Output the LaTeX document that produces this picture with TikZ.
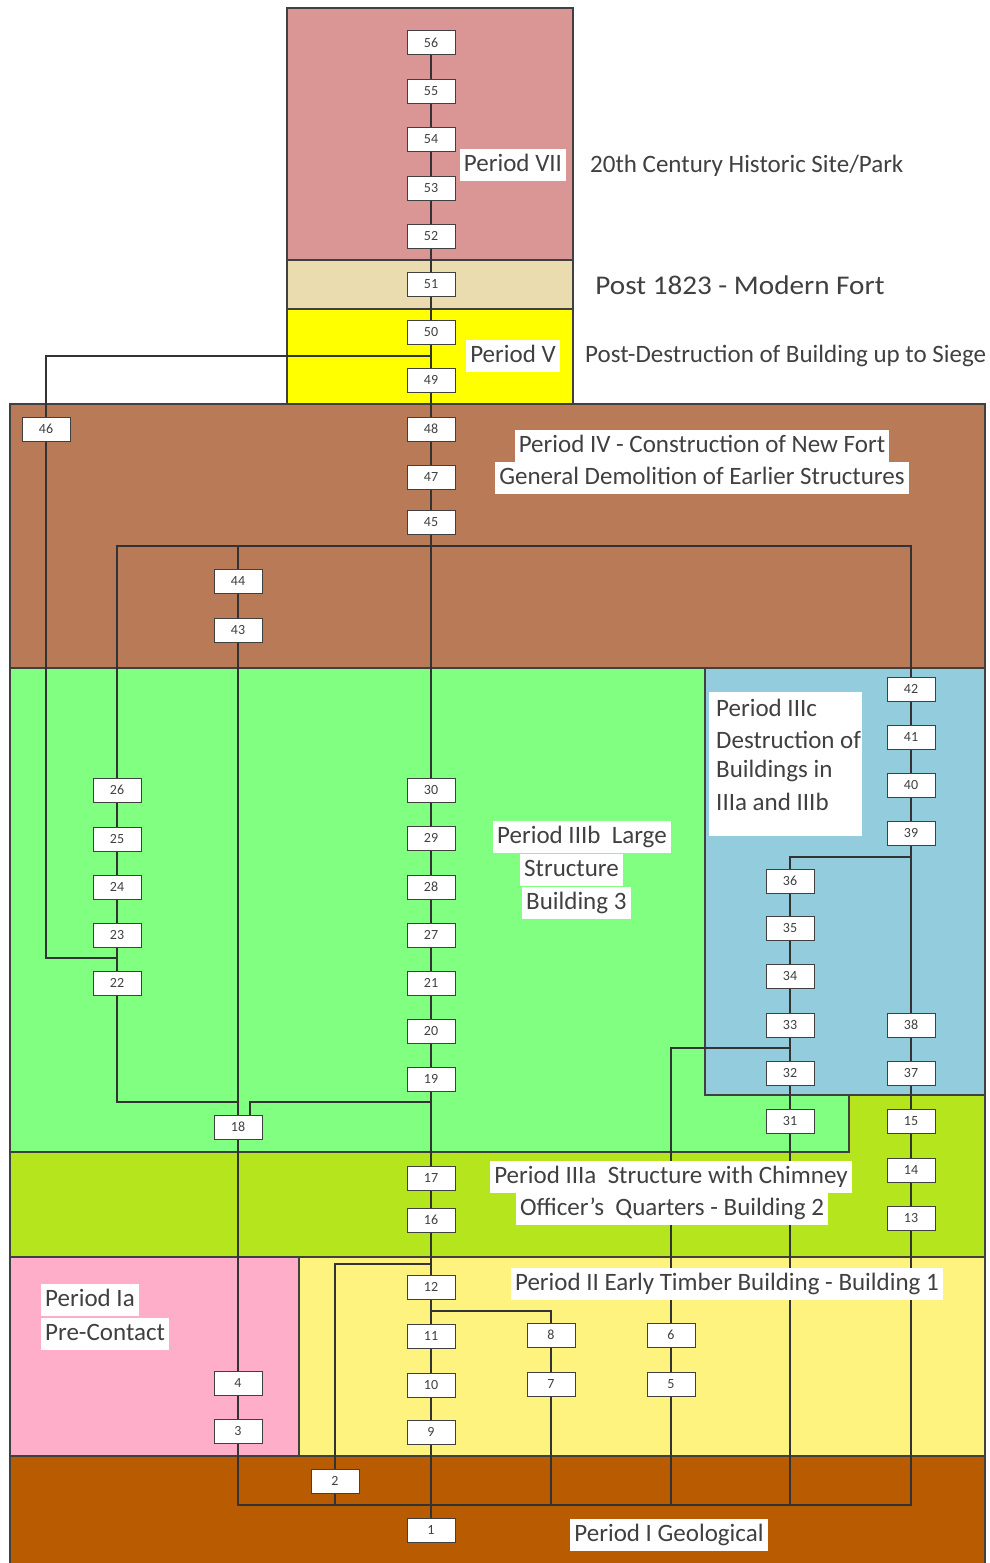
\documentclass[tikz,border=0pt]{standalone}
\usepackage{fontspec}
\setmainfont{Carlito}
\definecolor{cVII}{HTML}{D99694}
\definecolor{cPost}{HTML}{EADCAE}
\definecolor{cV}{HTML}{FFFF00}
\definecolor{cIV}{HTML}{B97A57}
\definecolor{cIIIb}{HTML}{80FF80}
\definecolor{cIIIc}{HTML}{93CDDD}
\definecolor{cIIIa}{HTML}{B5E61D}
\definecolor{cIa}{HTML}{FFAEC9}
\definecolor{cII}{HTML}{FFF37F}
\definecolor{cI}{HTML}{B95B00}
\definecolor{ink}{HTML}{404040}
\pgfdeclarelayer{regions}
\pgfdeclarelayer{lines}
\pgfsetlayers{regions,lines,main}
\begin{document}
\begin{tikzpicture}[x=1pt,y=-1pt,
  region/.style={draw=black!75,line width=1.2pt},
  num/.style={rectangle,draw=black!75,fill=white,line width=1pt,minimum width=48pt,minimum height=24pt,inner sep=0pt,font=\fontsize{14}{14}\selectfont,text=ink},
  lab/.style={fill=white,inner xsep=4pt,inner ysep=4pt,text height=18pt,text depth=6pt,font=\fontsize{25}{30}\selectfont,text=ink},
  plain/.style={inner xsep=0pt,inner ysep=0pt,font=\fontsize{25}{30}\selectfont,text=ink},
  conn/.style={draw=black!80,line width=1.4pt}]

\begin{pgfonlayer}{regions}
\fill[white] (0,0) rectangle (990,1563);
\useasboundingbox (0,0) rectangle (990,1563);
\filldraw[region,fill=cVII] (287,8) rectangle (573,260);
\filldraw[region,fill=cPost] (287,260) rectangle (573,309);
\filldraw[region,fill=cV] (287,309) rectangle (573,404);
\filldraw[region,fill=cIV] (10,404) rectangle (985,668);
\filldraw[region,fill=cIIIb] (10,668) -- (705,668) -- (705,1095) -- (849,1095) -- (849,1152) -- (10,1152) -- cycle;
\filldraw[region,fill=cIIIc] (705,668) rectangle (985,1095);
\filldraw[region,fill=cIIIa] (10,1152) -- (849,1152) -- (849,1095) -- (985,1095) -- (985,1257) -- (10,1257) -- cycle;
\filldraw[region,fill=cIa] (10,1257) rectangle (299,1456);
\filldraw[region,fill=cII] (299,1257) rectangle (985,1456);
\filldraw[region,fill=cI] (10,1456) rectangle (985,1566);
\end{pgfonlayer}

% numbered boxes
\node[num] (n56) at (431,43) {56};
\node[num] (n55) at (431,91) {55};
\node[num] (n54) at (431,139) {54};
\node[num] (n53) at (431,188) {53};
\node[num] (n52) at (431,236) {52};
\node[num] (n51) at (431,284) {51};
\node[num] (n50) at (431,332) {50};
\node[num] (n49) at (431,380) {49};
\node[num] (n48) at (431,429) {48};
\node[num] (n47) at (431,477) {47};
\node[num] (n45) at (431,522) {45};
\node[num] (n30) at (431,790) {30};
\node[num] (n29) at (431,838) {29};
\node[num] (n28) at (431,887) {28};
\node[num] (n27) at (431,935) {27};
\node[num] (n21) at (431,983) {21};
\node[num] (n20) at (431,1031) {20};
\node[num] (n19) at (431,1079) {19};
\node[num] (n17) at (431,1178) {17};
\node[num] (n16) at (431,1220) {16};
\node[num] (n12) at (431,1287) {12};
\node[num] (n11) at (431,1336) {11};
\node[num] (n10) at (431,1385) {10};
\node[num] (n9) at (431,1432) {9};
\node[num] (n1) at (431,1530) {1};
\node[num] (n46) at (46,429) {46};
\node[num] (n26) at (117,790) {26};
\node[num] (n25) at (117,839) {25};
\node[num] (n24) at (117,887) {24};
\node[num] (n23) at (117,935) {23};
\node[num] (n22) at (117,983) {22};
\node[num] (n44) at (238,581) {44};
\node[num] (n43) at (238,630) {43};
\node[num] (n18) at (238,1127) {18};
\node[num] (n4) at (238,1383) {4};
\node[num] (n3) at (238,1431) {3};
\node[num] (n2) at (335,1481) {2};
\node[num] (n8) at (551,1335) {8};
\node[num] (n7) at (551,1384) {7};
\node[num] (n6) at (671,1335) {6};
\node[num] (n5) at (671,1384) {5};
\node[num] (n36) at (790,881) {36};
\node[num] (n35) at (790,928) {35};
\node[num] (n34) at (790,976) {34};
\node[num] (n33) at (790,1025) {33};
\node[num] (n32) at (790,1073) {32};
\node[num] (n31) at (790,1121) {31};
\node[num] (n42) at (911,689) {42};
\node[num] (n41) at (911,737) {41};
\node[num] (n40) at (911,785) {40};
\node[num] (n39) at (911,833) {39};
\node[num] (n38) at (911,1025) {38};
\node[num] (n37) at (911,1073) {37};
\node[num] (n15) at (911,1121) {15};
\node[num] (n14) at (911,1170) {14};
\node[num] (n13) at (911,1218) {13};

% junction coordinates
\coordinate (j50) at (431,356);
\coordinate (j23) at (117,958);
\coordinate (b1) at (431,546);
\coordinate (j18a) at (238,1102);
\coordinate (j18b) at (250,1102);
\coordinate (j12) at (431,1264);
\coordinate (j11) at (431,1311);
\coordinate (j32) at (790,1048);
\coordinate (j39) at (911,857);
\coordinate (b2) at (431,1505);

\begin{pgfonlayer}{lines}
\foreach \a/\b in {56/55,55/54,54/53,53/52,52/51,51/50,50/49,49/48,48/47,47/45,45/30,30/29,29/28,28/27,27/21,21/20,20/19,19/17,17/16,16/12,12/11,11/10,10/9,9/1,
  26/25,25/24,24/23,23/22,44/43,43/18,18/4,4/3,8/7,6/5,
  36/35,35/34,34/33,33/32,32/31,
  42/41,41/40,40/39,39/38,38/37,37/15,15/14,14/13}
  \draw[conn] (n\a) -- (n\b);
\draw[conn] (j50) -| (n46);
\draw[conn] (n46) |- (j23);
\draw[conn] (n26) |- (b1);
\draw[conn] (n42) |- (b1);
\draw[conn] (n44) |- (b1);
\draw[conn] (n22) |- (j18a);
\draw[conn] (n19) |- (j18b) -- (j18b |- n18.north);
\draw[conn] (n2) |- (j12);
\draw[conn] (j11) -| (n8);
\draw[conn] (n6) |- (j32);
\draw[conn] (n36) |- (j39);
\draw[conn] (n3) |- (b2);
\draw[conn] (n13) |- (b2);
\draw[conn] (n2) -- (n2 |- b2);
\draw[conn] (n7) -- (n7 |- b2);
\draw[conn] (n5) -- (n5 |- b2);
\draw[conn] (n31) -- (n31 |- b2);
\end{pgfonlayer}

% labels
\node[lab] (lVII) at (513,165) {Period VII};
\node[plain,anchor=west] (tVII) at (590,166) {20th Century Historic Site/Park};
\node[plain] (tPost) at (740,285) {\fontsize{27}{30}\selectfont\scalebox{1.08}[1]{Post 1823 - Modern Fort}};
\node[lab] (lV) at (513,356) {Period V};
\node[plain,anchor=west] (tV) at (585,356) {Post-Destruction of Building up to Siege};
\node[lab] (lIVa) at (702,446) {Period IV - Construction of New Fort};
\node[lab] (lIVb) at (702,478) {General Demolition of Earlier Structures};
\node[lab,anchor=west] (lIIIb1) at (493,837) {Period IIIb\ \ Large};
\node[lab,anchor=west] (lIIIb2) at (520,870) {Structure};
\node[lab,anchor=west] (lIIIb3) at (522,903) {Building 3};
\node[fill=white,minimum width=153pt,minimum height=144pt,inner sep=0pt,anchor=north west] (lIIIcbox) at (709,692) {};
\node[plain,anchor=west] (lIIIc1) at (716,708) {Period IIIc};
\node[plain,anchor=west] (lIIIc2) at (716,740) {Destruction of};
\node[plain,anchor=west] (lIIIc3) at (716,771) {Buildings in};
\node[plain,anchor=west] (lIIIc4) at (716,802) {IIIa and IIIb};
\node[lab] (lIIIa1) at (671,1177) {Period IIIa\ \ Structure with Chimney};
\node[lab] (lIIIa2) at (672,1209) {Officer's\ \ Quarters - Building 2};
\node[lab] (lII) at (727,1284) {Period II Early Timber Building - Building 1};
\node[lab,anchor=west] (lIa1) at (41,1300) {Period Ia};
\node[lab,anchor=west] (lIa2) at (41,1334) {Pre-Contact};
\node[lab] (lI) at (669,1535) {Period I Geological};
\end{tikzpicture}
\end{document}
